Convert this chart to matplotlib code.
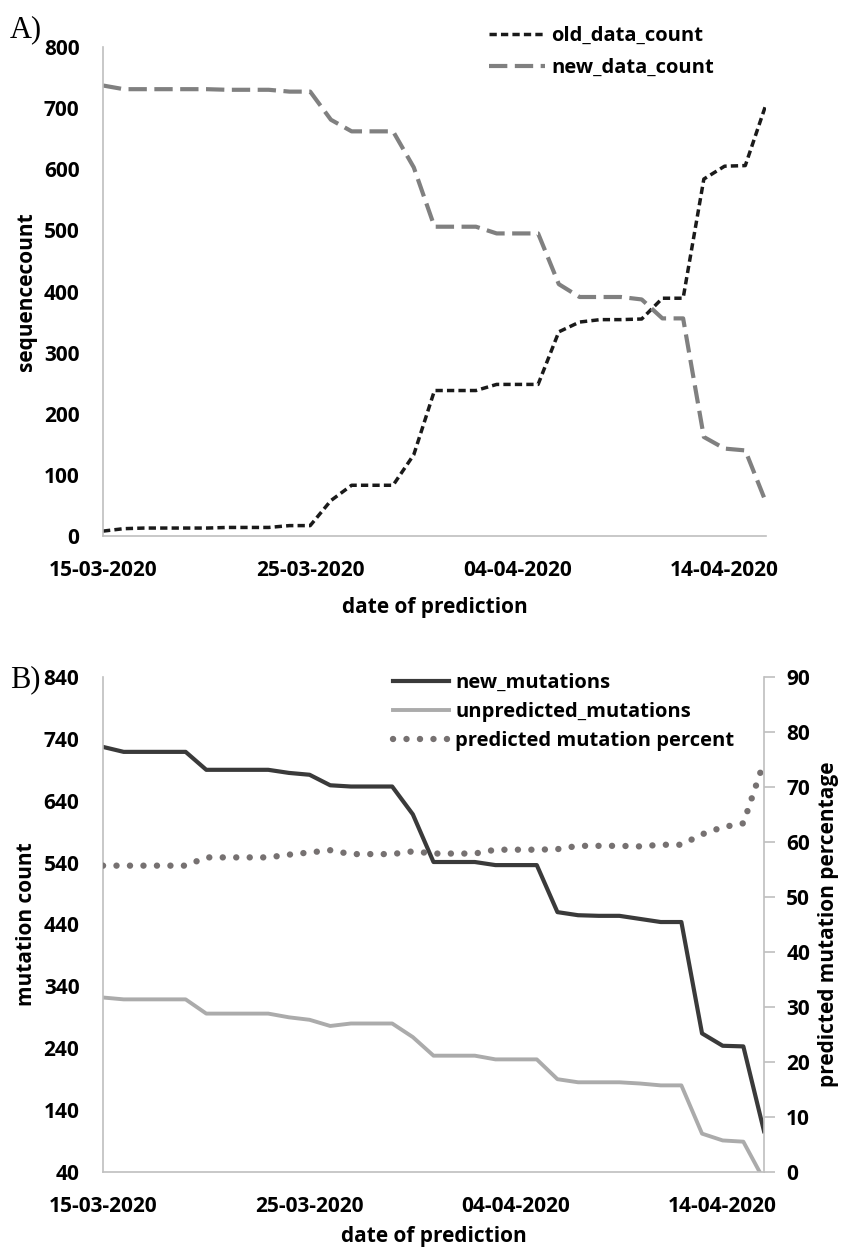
import numpy as np
import matplotlib
matplotlib.use("Agg")
import matplotlib.pyplot as plt

plt.rcParams['font.family'] = ['Open Sans', 'DejaVu Sans']

# one prediction per day, 15-03-2020 .. 16-04-2020
dates = np.arange(np.datetime64('2020-03-15'), np.datetime64('2020-04-17'))
tick_dates = ['2020-03-15', '2020-03-25', '2020-04-04', '2020-04-14']

old_data_count = [8, 12, 13, 13, 13, 13, 14, 14, 14, 17, 17, 58, 83, 83, 83, 133,
                  238, 238, 238, 248, 248, 248, 334, 350, 354, 354, 355, 389, 389,
                  584, 605, 606, 706]
new_data_count = [737, 731, 731, 731, 731, 731, 730, 730, 730, 727, 727, 681, 662,
                  662, 662, 603, 506, 506, 506, 495, 495, 495, 412, 391, 391, 391,
                  387, 356, 356, 162, 143, 140, 55]

new_mutations = [727, 719, 719, 719, 719, 690, 690, 690, 690, 685, 682, 665, 663,
                 663, 663, 618, 541, 541, 541, 536, 536, 536, 460, 455, 454, 454,
                 449, 444, 444, 264, 244, 243, 106]
unpredicted_mutations = [322, 319, 319, 319, 319, 296, 296, 296, 296, 290, 286, 276,
                         280, 280, 280, 258, 228, 228, 228, 222, 222, 222, 190, 185,
                         185, 185, 183, 180, 180, 102, 91, 89, 27]
predicted_percent = [55.7, 55.7, 55.7, 55.7, 55.7, 57.2, 57.2, 57.2, 57.2, 57.7, 58.1,
                     58.5, 57.8, 57.8, 57.8, 58.3, 57.9, 57.9, 57.9, 58.6, 58.6, 58.6,
                     58.7, 59.3, 59.3, 59.3, 59.2, 59.5, 59.5, 61.4, 62.7, 63.4, 74.6]

x = np.arange(len(dates))
tick_pos = [int((np.datetime64(d) - dates[0]).astype(int)) for d in tick_dates]
tick_labels = [np.datetime64(d).item().strftime('%d-%m-%Y') for d in tick_dates]

W, H = 842, 1247
fig = plt.figure(figsize=(W / 100, H / 100), dpi=100)

spine_col = '#BFBFBF'
leg_prop = {'weight': 'bold', 'size': 14.5}


def style_axis(ax):
    for s in ['top', 'right']:
        ax.spines[s].set_visible(False)
    for s in ['left', 'bottom']:
        ax.spines[s].set_color(spine_col)
        ax.spines[s].set_linewidth(1.2)
    ax.tick_params(axis='both', length=0, pad=17, labelsize=15)
    ax.set_xlim(x[0], x[-1])
    ax.set_xticks(tick_pos)
    ax.set_xticklabels(tick_labels, fontweight='bold')
    for lab in ax.get_yticklabels():
        lab.set_fontweight('bold')


# ---- A) ----
ax1 = fig.add_axes([103 / W, 1 - 536 / H, 663 / W, 489 / H])
ax1.plot(x, old_data_count, color='#1A1A1A', lw=2.5, dashes=(2.1, 1.2),
         label='old_data_count')
ax1.plot(x, new_data_count, color='#808080', lw=3.0, dashes=(4.4, 1.8),
         label='new_data_count')
ax1.set_ylim(0, 800)
ax1.set_yticks(range(0, 801, 100))
style_axis(ax1)
ax1.set_xlabel('date of prediction', fontsize=15, fontweight='bold', labelpad=12)
ax1.set_ylabel('sequencecount', fontsize=15, fontweight='bold', labelpad=5)
ax1.legend(loc='upper left', bbox_to_anchor=(489 / W, 1 - 26 / H),
           bbox_transform=fig.transFigure, frameon=False, prop=leg_prop,
           handlelength=2.8, handletextpad=0.3, labelspacing=0.6,
           borderaxespad=0, borderpad=0)
fig.text(10 / W, 1 - 30 / H, 'A)', fontsize=22, family='Liberation Serif',
         va='center', ha='left')

# ---- B) ----
ax2 = fig.add_axes([103 / W, 1 - 1172 / H, 661 / W, 495 / H])
l1, = ax2.plot(x, new_mutations, color='#3A3A3A', lw=3.0, label='new_mutations')
l2, = ax2.plot(x, unpredicted_mutations, color='#ABABAB', lw=2.8,
               label='unpredicted_mutations')
ax2.set_ylim(40, 840)
ax2.set_yticks(range(40, 841, 100))
style_axis(ax2)
ax2.set_xlabel('date of prediction', fontsize=15, fontweight='bold', labelpad=7)
ax2.set_ylabel('mutation count', fontsize=15, fontweight='bold', labelpad=5)

ax3 = ax2.twinx()
l3, = ax3.plot(x, predicted_percent, color='#767171', lw=4.6, dashes=(0.01, 2.1),
               dash_capstyle='round', label='predicted mutation percent')
ax3.set_ylim(0, 90)
ax3.set_yticks(range(0, 91, 10))
for s in ['top', 'left', 'bottom']:
    ax3.spines[s].set_visible(False)
ax3.spines['right'].set_color(spine_col)
ax3.spines['right'].set_linewidth(1.2)
ax3.tick_params(axis='y', length=8, width=1.2, color=spine_col, pad=8, labelsize=15)
for lab in ax3.get_yticklabels():
    lab.set_fontweight('bold')
ax3.set_ylabel('predicted mutation percentage', fontsize=15, fontweight='bold',
               labelpad=6)

ax3.legend(handles=[l1, l2, l3], loc='upper left',
           bbox_to_anchor=(393 / W, 1 - 673 / H), bbox_transform=fig.transFigure,
           frameon=False, prop=leg_prop, handlelength=2.8, handletextpad=0.3,
           labelspacing=0.45, borderaxespad=0, borderpad=0)
fig.text(10 / W, 1 - 680 / H, 'B)', fontsize=22, family='Liberation Serif',
         va='center', ha='left')

fig.savefig('out.png', dpi=100)
